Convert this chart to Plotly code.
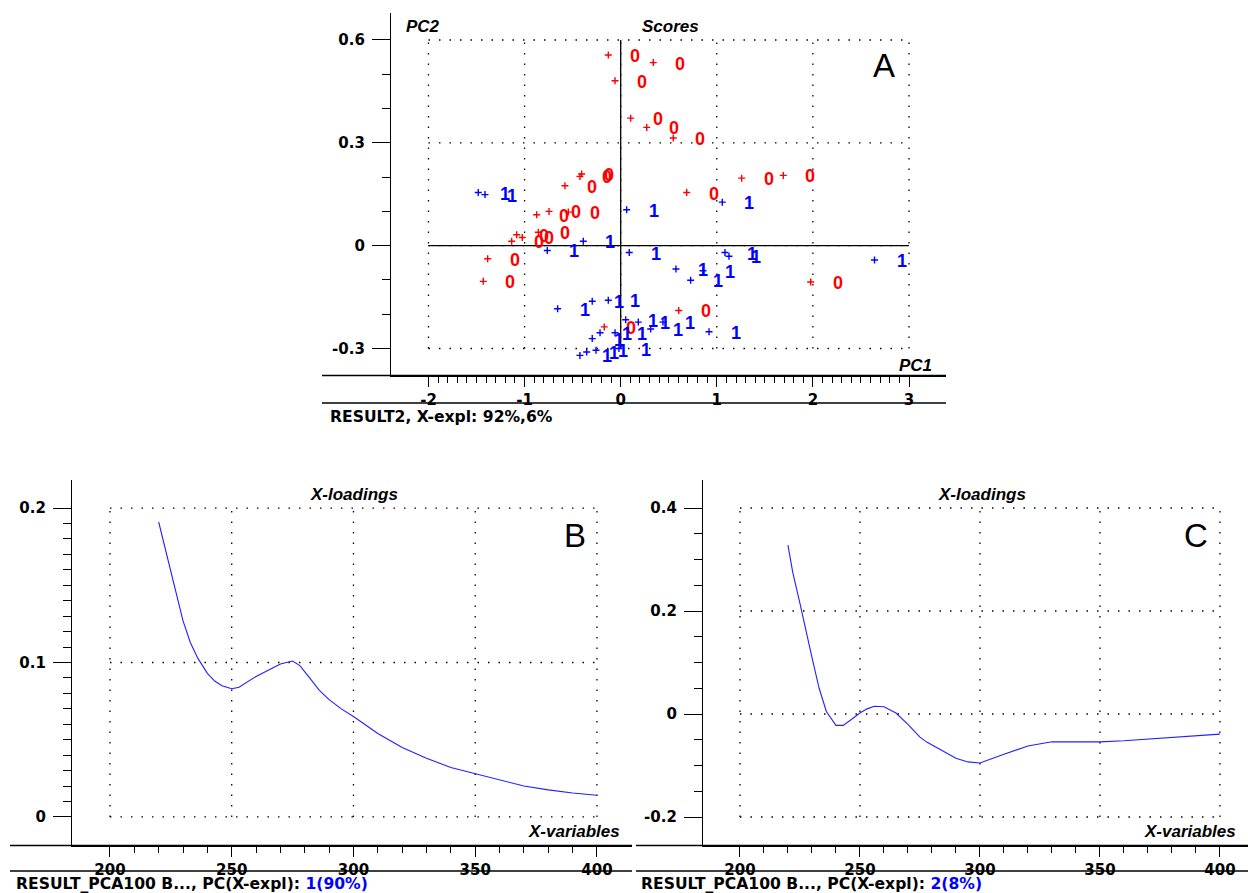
import plotly.graph_objects as go

# ---------------- data ----------------
# PCA scores (PC1, PC2) of the two sample classes
pc1_class0 = [-0.129, -0.059, 0.339, 0.104, 0.271, 0.547, 1.259, 1.692, 0.687, -0.580,
              -0.424, -0.406, -0.874, -0.746, -0.545, -1.134, -1.082, -1.024, -0.857,
              -1.384, -1.430, 1.977, -0.171, 0.604]
pc2_class0 = [0.556, 0.481, 0.534, 0.372, 0.345, 0.314, 0.197, 0.205, 0.155, 0.175,
              0.202, 0.209, 0.090, 0.100, 0.098, 0.013, 0.032, 0.024, 0.039,
              -0.038, -0.104, -0.106, -0.237, -0.189]
pc1_class1 = [-1.482, -1.412, 0.062, 1.057, -0.764, -0.389, 0.089, 1.085, 1.127, 2.641,
              0.575, 0.856, 0.728, -0.656, -0.296, -0.129, 0.052, 0.183, 0.312, 0.440,
              0.919, -0.296, -0.215, -0.059, -0.424, -0.354, -0.257, -0.018]
pc2_class1 = [0.155, 0.149, 0.105, 0.127, -0.014, 0.013, -0.020, -0.020, -0.031, -0.042,
              -0.068, -0.073, -0.101, -0.184, -0.162, -0.159, -0.216, -0.223, -0.243, -0.223,
              -0.251, -0.271, -0.254, -0.254, -0.320, -0.310, -0.305, -0.300]
class_names = ["0", "1"]

# X-loadings of PC1 and PC2 against the X-variables (wavelength, nm)
wavelength = [220, 222, 225, 228, 230, 233, 236, 240, 243, 246, 250, 253, 256, 260, 265,
              270, 275, 278, 282, 286, 290, 295, 300, 310, 320, 330, 340, 350, 360,
              370, 380, 390, 400]
loading_pc1 = [0.191, 0.178, 0.160, 0.140, 0.127, 0.113, 0.103, 0.093, 0.088, 0.085,
               0.083, 0.084, 0.087, 0.091, 0.095, 0.099, 0.101, 0.098, 0.090, 0.082,
               0.076, 0.070, 0.065, 0.054, 0.045, 0.038, 0.032, 0.028, 0.024,
               0.020, 0.0175, 0.0155, 0.014]
loading_pc2 = [0.328, 0.275, 0.215, 0.150, 0.110, 0.050, 0.005, -0.022, -0.022, -0.012,
               0.002, 0.010, 0.015, 0.014, 0.002, -0.020, -0.045, -0.055, -0.065, -0.075,
               -0.086, -0.093, -0.095, -0.078, -0.062, -0.054, -0.054, -0.054, -0.052,
               -0.049, -0.046, -0.042, -0.039]

# tick values / labels
a_xticks = [-2, -1, 0, 1, 2, 3]
a_xticktext = ["-2", "-1", "0", "1", "2", "3"]
a_yticks = [-0.3, 0, 0.3, 0.6]
a_yticktext = ["-0.3", "0", "0.3", "0.6"]
wl_ticks = [200, 250, 300, 350, 400]
wl_ticktext = ["200", "250", "300", "350", "400"]
b_yticks = [0, 0.1, 0.2]
b_yticktext = ["0", "0.1", "0.2"]
c_yticks = [-0.2, 0, 0.2, 0.4]
c_yticktext = ["-0.2", "0", "0.2", "0.4"]

# ---------------- styling ----------------
W, H = 1248, 893
RED = "#ff0000"
BLUE = "#0000ff"
LINE_BLUE = "#2020ff"
TICK_FONT = dict(family="DejaVu Sans", size=15, color="black", weight="bold")
TITLE_FONT = dict(family="Liberation Sans", size=17, color="black", style="italic",
                  weight="bold")
CAPTION_FONT = dict(family="DejaVu Sans", size=15.6, color="black", weight="bold")
LETTER_FONT = dict(family="Liberation Sans", size=33, color="black")
LABEL_SIZE = 18
DOT = "1.5px,9px"


def fx(p):
    return p / W


def fy(p):
    return 1 - p / H


def steps(a, b, step):
    n = int(round((b - a) / step))
    return [round(a + i * step, 6) for i in range(n + 1)]


fig = go.Figure()

# ---------------- panel A: scores ----------------
fig.add_trace(go.Scatter(x=pc1_class0, y=pc2_class0, mode="markers", xaxis="x", yaxis="y",
                         marker=dict(symbol="cross-thin", size=5, line=dict(width=1.4, color=RED)),
                         showlegend=False, hoverinfo="skip"))
fig.add_trace(go.Scatter(x=pc1_class1, y=pc2_class1, mode="markers", xaxis="x", yaxis="y",
                         marker=dict(symbol="cross-thin", size=5, line=dict(width=1.4, color=BLUE)),
                         showlegend=False, hoverinfo="skip"))

annotations = []
for xs, ys, name, col in [(pc1_class0, pc2_class0, class_names[0], RED),
                          (pc1_class1, pc2_class1, class_names[1], BLUE)]:
    for xv, yv in zip(xs, ys):
        annotations.append(dict(x=xv, y=yv, xref="x", yref="y", text=name, showarrow=False,
                                xshift=27, yshift=-1,
                                font=dict(family="Liberation Sans", size=LABEL_SIZE, color=col,
                                          weight="bold")))

# ---------------- panels B and C: loadings ----------------
fig.add_trace(go.Scatter(x=wavelength, y=loading_pc1, mode="lines", xaxis="x2", yaxis="y2",
                         line=dict(color=LINE_BLUE, width=1.1), showlegend=False,
                         hoverinfo="skip"))
fig.add_trace(go.Scatter(x=wavelength, y=loading_pc2, mode="lines", xaxis="x3", yaxis="y3",
                         line=dict(color=LINE_BLUE, width=1.1), showlegend=False,
                         hoverinfo="skip"))

shapes = []


def dotted_grid(xref, yref, xt, yt):
    for v in xt:
        shapes.append(dict(type="line", xref=xref, yref=yref, x0=v, x1=v, y0=yt[0], y1=yt[-1],
                           line=dict(color="black", width=1.3, dash=DOT), layer="below"))
    for v in yt:
        shapes.append(dict(type="line", xref=xref, yref=yref, x0=xt[0], x1=xt[-1], y0=v, y1=v,
                           line=dict(color="black", width=1.3, dash=DOT), layer="below"))


dotted_grid("x", "y", a_xticks, a_yticks)
dotted_grid("x2", "y2", wl_ticks, b_yticks)
dotted_grid("x3", "y3", wl_ticks, c_yticks)

# solid origin cross of the scores plot
shapes.append(dict(type="line", xref="x", yref="y", x0=a_xticks[0], x1=a_xticks[-1], y0=0, y1=0,
                   line=dict(color="black", width=1.3), layer="below"))
shapes.append(dict(type="line", xref="x", yref="y", x0=0, x1=0, y0=a_yticks[0], y1=a_yticks[-1],
                   line=dict(color="black", width=1.3), layer="below"))


def hline(x0, x1, y):
    shapes.append(dict(type="line", xref="paper", yref="paper", x0=fx(x0), x1=fx(x1),
                       y0=fy(y), y1=fy(y), line=dict(color="black", width=1.3)))


# frame lines around the tick-label strips
hline(322, 946, 375.5)
hline(322, 946, 403)
hline(10, 632, 845.5)
hline(10, 632, 871)
hline(636, 1248, 845.5)
hline(636, 1248, 871)


def text(x, y, s, font, xanchor="center"):
    annotations.append(dict(x=fx(x), y=fy(y), xref="paper", yref="paper", text=s,
                            showarrow=False, font=font, xanchor=xanchor, yanchor="middle"))


text(423, 27, "PC2", TITLE_FONT)
text(670, 27, "Scores", TITLE_FONT)
text(916, 365, "PC1", TITLE_FONT)
text(884, 66, "A", LETTER_FONT)
text(328, 417, "RESULT2, X-expl: 92%,6%", CAPTION_FONT, "left")

text(354, 495, "X-loadings", TITLE_FONT)
text(575, 535, "B", LETTER_FONT)
text(574, 831, "X-variables", TITLE_FONT)
text(14, 884, "RESULT_PCA100 B..., PC(X-expl): <span style='color:#0000ff'>1(90%)</span>",
     CAPTION_FONT, "left")

text(982, 495, "X-loadings", TITLE_FONT)
text(1196, 535, "C", LETTER_FONT)
text(1190, 831, "X-variables", TITLE_FONT)
text(639, 884, "RESULT_PCA100 B..., PC(X-expl): <span style='color:#0000ff'>2(8%)</span>",
     CAPTION_FONT, "left")


def xaxis(dom, rng, tv, tt, minor_vals, anchor):
    return dict(domain=[fx(dom[0]), fx(dom[1])], range=rng, anchor=anchor,
                showgrid=False, zeroline=False, showline=True, linecolor="black", linewidth=1.3,
                ticks="outside", ticklen=10, tickwidth=1.3, tickcolor="black",
                tickvals=tv, ticktext=tt, tickfont=TICK_FONT,
                minor=dict(tickmode="array", tickvals=minor_vals, ticks="outside", ticklen=6,
                           tickwidth=1.3, tickcolor="black", showgrid=False),
                fixedrange=True)


def yaxis(dom, rng, tv, tt, minor_vals, anchor):
    return dict(domain=[fy(dom[1]), fy(dom[0])], range=rng, anchor=anchor,
                showgrid=False, zeroline=False, showline=True, linecolor="black", linewidth=1.3,
                ticks="outside", ticklen=18, tickwidth=1.3, tickcolor="black",
                tickvals=tv, ticktext=tt, tickfont=TICK_FONT, ticklabelstandoff=4,
                minor=dict(tickmode="array", tickvals=minor_vals, ticks="outside", ticklen=8,
                           tickwidth=1.3, tickcolor="black", showgrid=False),
                fixedrange=True)


fig.update_layout(
    width=W, height=H,
    margin=dict(l=0, r=0, t=0, b=0),
    paper_bgcolor="white", plot_bgcolor="white",
    showlegend=False,
    xaxis=xaxis((391, 946), [-2.390, 3.385], a_xticks, a_xticktext, steps(-2, 3, 0.1), "y"),
    yaxis=yaxis((13, 375.5), [-0.3787, 0.6787], a_yticks, a_yticktext, steps(-0.3, 0.6, 0.1), "x"),
    xaxis2=xaxis((72, 632), [184.4, 414.4], wl_ticks, wl_ticktext, steps(200, 400, 10), "y2"),
    yaxis2=yaxis((480, 845.5), [-0.0185, 0.2182], b_yticks, b_yticktext, steps(0, 0.2, 0.01), "x2"),
    xaxis3=xaxis((703, 1248), [184.6, 411.7], wl_ticks, wl_ticktext, steps(200, 400, 10), "y3"),
    yaxis3=yaxis((480, 845.5), [-0.2553, 0.4544], c_yticks, c_yticktext, steps(-0.2, 0.4, 0.05), "x3"),
    shapes=shapes,
    annotations=annotations,
)

fig.write_html("out.html")
